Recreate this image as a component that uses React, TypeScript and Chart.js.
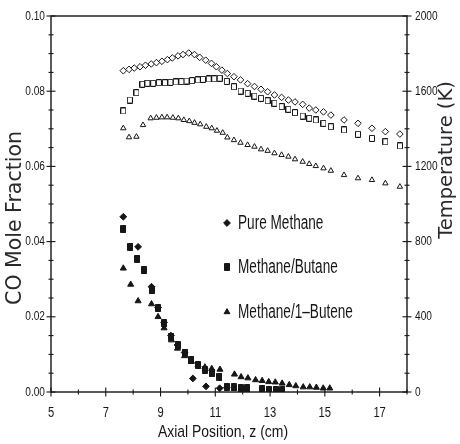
import React, { useEffect, useRef } from 'react';
import { Chart, registerables } from 'chart.js';
import { drawPoint } from 'chart.js/helpers';

Chart.register(...registerables);

// ---- Temperature profiles (open markers, right axis, K) ----
const zPureT = [7.64, 7.85, 8.04, 8.25, 8.45, 8.66, 8.85, 9.05, 9.25, 9.43, 9.64, 9.82, 10.03, 10.24, 10.43, 10.65, 10.86, 11.04, 11.24, 11.44, 11.68, 11.92, 12.18, 12.43, 12.67, 12.91, 13.16, 13.42, 13.67, 13.91, 14.19, 14.43, 14.67, 14.95, 15.22, 15.7, 16.21, 16.72, 17.21, 17.74];
const tPure = [1709, 1716, 1723, 1730, 1738, 1745, 1752, 1759, 1768, 1777, 1788, 1795, 1803, 1795, 1780, 1765, 1748, 1730, 1712, 1694, 1677, 1660, 1640, 1625, 1610, 1597, 1580, 1567, 1553, 1543, 1530, 1510, 1500, 1490, 1473, 1447, 1429, 1403, 1385, 1372];

const zButaneT = [7.64, 7.88, 8.12, 8.34, 8.52, 8.73, 8.94, 9.16, 9.36, 9.56, 9.76, 9.95, 10.15, 10.36, 10.55, 10.76, 10.96, 11.16, 11.42, 11.68, 11.92, 12.18, 12.43, 12.67, 12.91, 13.16, 13.42, 13.67, 13.91, 14.19, 14.43, 14.67, 14.95, 15.22, 15.7, 16.21, 16.72, 17.21, 17.74];
const tButane = [1495, 1553, 1592, 1637, 1642, 1642, 1645, 1645, 1647, 1649, 1651, 1654, 1656, 1660, 1663, 1665, 1666, 1669, 1652, 1624, 1601, 1589, 1574, 1562, 1549, 1536, 1518, 1504, 1486, 1468, 1456, 1447, 1429, 1411, 1394, 1371, 1349, 1331, 1309];

const zButeneT = [7.64, 7.85, 8.12, 8.36, 8.64, 8.85, 9.05, 9.24, 9.45, 9.65, 9.85, 10.05, 10.24, 10.45, 10.67, 10.87, 11.06, 11.27, 11.44, 11.68, 11.92, 12.18, 12.43, 12.67, 12.91, 13.16, 13.42, 13.67, 13.91, 14.19, 14.43, 14.67, 14.95, 15.22, 15.7, 16.21, 16.72, 17.21, 17.74];
const tButene = [1403, 1355, 1358, 1420, 1456, 1459, 1461, 1461, 1459, 1456, 1447, 1441, 1432, 1424, 1411, 1403, 1390, 1379, 1354, 1340, 1326, 1314, 1305, 1291, 1283, 1270, 1261, 1252, 1238, 1225, 1213, 1202, 1190, 1177, 1154, 1137, 1128, 1110, 1092];

// ---- CO mole fraction (filled markers, left axis) ----
const zPureCO = [7.64, 8.18, 8.67, 8.91, 9.13, 9.38, 9.62, 9.88, 10.18, 10.66, 11.16, 11.42];
const coPure = [0.0466, 0.0386, 0.028, 0.0225, 0.0185, 0.015, 0.0125, 0.0105, 0.0036, 0.0015, 0.001, 0.0012];

const zButaneCO = [7.64, 7.9, 8.15, 8.4, 8.67, 8.91, 9.13, 9.38, 9.62, 9.88, 10.13, 10.37, 10.62, 10.87, 11.15, 11.42, 11.67, 11.92, 12.17, 12.71, 12.95, 13.2, 13.45];
const coButane = [0.0433, 0.0386, 0.0354, 0.0324, 0.027, 0.0223, 0.0183, 0.0147, 0.0125, 0.0105, 0.0085, 0.0072, 0.0059, 0.005, 0.0041, 0.0014, 0.0012, 0.001, 0.001, 0.0007, 0.0006, 0.0006, 0.0005];

const zButeneCO = [7.64, 7.91, 8.18, 8.67, 8.91, 9.13, 9.4, 9.62, 9.88, 10.13, 10.37, 10.62, 10.87, 11.17, 11.7, 11.94, 12.19, 12.47, 12.71, 12.95, 13.19, 13.44, 13.7, 13.94, 14.21, 14.45, 14.69, 14.94, 15.18];
const coButene = [0.0329, 0.0286, 0.0242, 0.0234, 0.02, 0.017, 0.0138, 0.0116, 0.0096, 0.0081, 0.0072, 0.0066, 0.0062, 0.006, 0.0047, 0.004, 0.0037, 0.0032, 0.003, 0.0027, 0.0026, 0.0023, 0.0019, 0.0016, 0.0013, 0.0013, 0.0012, 0.001, 0.001];

// ---- Axes / labels ----
const xTickLabels = [5, 7, 9, 11, 13, 15, 17];
const coTickLabels = [0, 0.02, 0.04, 0.06, 0.08, 0.1];
const tTickLabels = [0, 400, 800, 1200, 1600, 2000];
const legendNames = ['Pure Methane', 'Methane/Butane', 'Methane/1\u2013Butene'];
const xTitle = 'Axial Position, z (cm)';
const yTitle = 'CO Mole Fraction';
const y2Title = 'Temperature (K)';

const INK = '#161616';

const pts = (xs: number[], ys: number[]) => xs.map((x, i) => ({ x, y: ys[i] }));

function rectMarker(filled: boolean, w: number, h: number) {
  const c = document.createElement('canvas');
  c.width = w + 1; c.height = h + 1;
  const g = c.getContext('2d')!;
  g.lineWidth = 1;
  g.strokeStyle = INK;
  g.fillStyle = filled ? INK : '#fff';
  g.beginPath();
  g.rect(0.5, 0.5, w, h);
  g.fill(); g.stroke();
  return c;
}

function sqText(ctx: CanvasRenderingContext2D, text: string, x: number, y: number, size: number, sx: number, align: CanvasTextAlign, family = "'Liberation Sans', Arial, sans-serif", rot = 0, color = INK) {
  ctx.save();
  ctx.translate(x, y);
  if (rot) ctx.rotate(rot);
  ctx.scale(sx, 1);
  ctx.font = `${size}px ${family}`;
  ctx.textAlign = align;
  ctx.textBaseline = 'middle';
  ctx.fillStyle = color;
  ctx.fillText(text, 0, 0);
  ctx.restore();
}

export default function App() {
  const ref = useRef<HTMLCanvasElement>(null);
  useEffect(() => {
    document.body.style.margin = '0';
    const openRect = rectMarker(false, 5, 6);
    const fillRect = rectMarker(true, 5, 7);
    const legendStyles: any[] = ['rectRot', fillRect, 'triangle'];

    const framePlugin = {
      id: 'frame',
      afterDraw(chart: any) {
        const { ctx, chartArea: a, scales } = chart;
        const xs = scales.x, ys = scales.y, ts = scales.y1;
        ctx.save();
        ctx.strokeStyle = INK;
        ctx.lineWidth = 1.4;
        ctx.strokeRect(a.left, a.top, a.right - a.left, a.bottom - a.top);
        ctx.lineWidth = 1.1;
        const line = (x1: number, y1: number, x2: number, y2: number) => {
          ctx.beginPath(); ctx.moveTo(x1, y1); ctx.lineTo(x2, y2); ctx.stroke();
        };
        for (let v = 5; v <= 18; v++) {
          const px = xs.getPixelForValue(v);
          const L = xTickLabels.includes(v) ? 4.5 : 2.5;
          line(px, a.bottom - L, px, a.bottom + L);
        }
        for (let i = 0; i <= 20; i++) {
          const py = ys.getPixelForValue(i * 0.005);
          const L = i % 4 === 0 ? 4.5 : 2.5;
          line(a.left - L, py, a.left + L, py);
        }
        for (let i = 0; i <= 20; i++) {
          const py = ts.getPixelForValue(i * 100);
          const L = i % 4 === 0 ? 4.5 : 2.5;
          line(a.right - L, py, a.right + L, py);
        }
        xTickLabels.forEach(v => sqText(ctx, String(v), xs.getPixelForValue(v), a.bottom + 21, 14, 0.8, 'center'));
        coTickLabels.forEach(v => sqText(ctx, v.toFixed(2), a.left - 6, ys.getPixelForValue(v), 13, 0.78, 'right'));
        tTickLabels.forEach(v => sqText(ctx, String(v), a.right + 8, ts.getPixelForValue(v), 13, 0.78, 'left'));
        sqText(ctx, xTitle, (a.left + a.right) / 2 - 6, a.bottom + 40, 17, 0.82, 'center');
        sqText(ctx, yTitle, 16, 218, 20.5, 1, 'center', "'DejaVu Sans', sans-serif", -Math.PI / 2, '#2a2a2a');
        sqText(ctx, y2Title, 447, 160, 19.5, 1, 'center', "'DejaVu Sans', sans-serif", -Math.PI / 2, '#2a2a2a');
        const lx = a.left + 176;
        const rows = [a.top + 207, a.top + 251, a.top + 296];
        rows.forEach((ry, i) => {
          ctx.fillStyle = INK; ctx.strokeStyle = INK; ctx.lineWidth = 1;
          drawPoint(ctx, { pointStyle: legendStyles[i], radius: 3.4, rotation: 0, borderWidth: 1 } as any, lx, ry);
          sqText(ctx, legendNames[i], lx + 11, ry, 20, 0.68, 'left');
        });
        ctx.restore();
      },
    };

    const open = (data: any, style: any, r: number) => ({
      data, yAxisID: 'y1', pointStyle: style, pointRadius: r, pointBackgroundColor: '#fff',
      pointBorderColor: INK, pointBorderWidth: 1, showLine: false,
    });
    const filled = (data: any, style: any, r: number) => ({
      data, yAxisID: 'y', pointStyle: style, pointRadius: r, pointBackgroundColor: INK,
      pointBorderColor: INK, pointBorderWidth: 1, showLine: false,
    });
    const chart = new Chart(ref.current!, {
      type: 'scatter',
      data: {
        datasets: [
          open(pts(zPureT, tPure), 'rectRot', 3.3),
          open(pts(zButaneT, tButane), openRect, 3.4),
          open(pts(zButeneT, tButene), 'triangle', 3.1),
          filled(pts(zPureCO, coPure), 'rectRot', 3.4),
          filled(pts(zButaneCO, coButane), fillRect, 3.8),
          filled(pts(zButeneCO, coButene), 'triangle', 3.5),
        ] as any,
      },
      options: {
        animation: false,
        responsive: false,
        events: [],
        layout: { padding: { top: 16, left: 0, right: 0, bottom: 0 } },
        plugins: { legend: { display: false }, tooltip: { enabled: false } },
        scales: {
          x: {
            type: 'linear', min: 5, max: 18,
            grid: { display: false }, border: { display: false },
            ticks: { display: false },
            afterFit: (s: any) => { s.height = 52; },
          },
          y: {
            type: 'linear', position: 'left', min: 0, max: 0.1,
            grid: { display: false }, border: { display: false },
            ticks: { display: false },
            afterFit: (s: any) => { s.width = 51; },
          },
          y1: {
            type: 'linear', position: 'right', min: 0, max: 2000,
            grid: { display: false }, border: { display: false },
            ticks: { display: false },
            afterFit: (s: any) => { s.width = 53; },
          },
        },
      },
      plugins: [framePlugin],
    });
    return () => chart.destroy();
  }, []);
  return (
    <div style={{ width: 460, height: 444, background: '#fff' }}>
      <canvas ref={ref} width={460} height={444} />
    </div>
  );
}
